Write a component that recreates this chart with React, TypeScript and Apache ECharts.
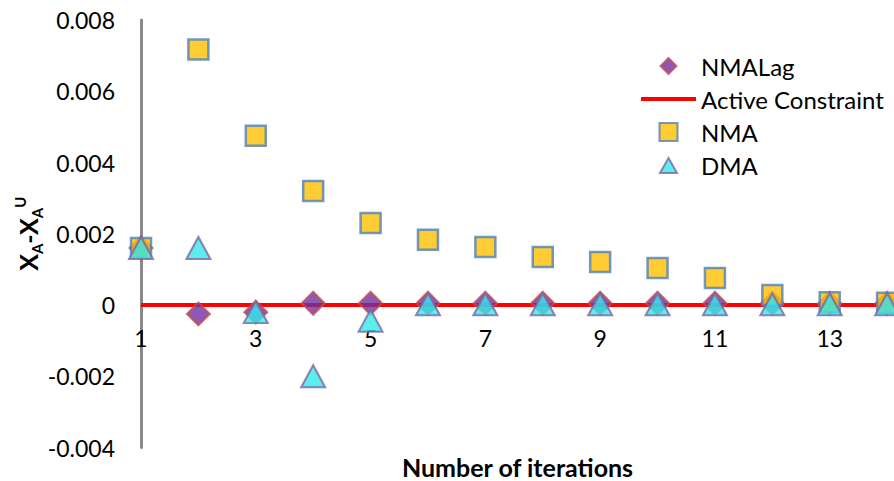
import React, { useEffect, useRef } from "react";
import * as echarts from "echarts";

const iterations = [1, 2, 3, 4, 5, 6, 7, 8, 9, 10, 11, 12, 13, 14];
const nmaLag = [0.0016, -0.00025, -0.0002, 0.00005, 0.00005, 0.00005, 0.00005, 0.00005, 0.00005, 0.00005, 0.00005, 0.00005, 0.00005, 0.00005];
const nma = [0.0016, 0.00717, 0.00475, 0.0032, 0.0023, 0.00183, 0.00163, 0.00135, 0.00121, 0.00104, 0.00076, 0.00028, 0.00008, 0.00006];
const dma = [0.0016, 0.0016, -0.0002, -0.002, -0.00044, 0.00002, 0.00002, 0.00002, 0.00002, 0.00002, 0.00002, 0.00002, 0.00002, 0.00002];
const constraintX = [1, 15];
const constraintY = [0, 0];
const legendNames = ["NMALag", "Active Constraint", "NMA", "DMA"];
const legendIcons = [
  "path://M0,0M20,20M10,2L18,10L10,18L2,10Z",
  "path://M0,0H55V4H0Z",
  "path://M0,0M20,20M1,1H19V19H1Z",
  "path://M0,0M20,20M10,3L18.5,18H1.5Z",
];

const FONT = "Lato";
const Y_MIN = -0.004;
const Y_MAX = 0.008;
const GRID_TOP = 20;
const GRID_BOTTOM = 33.5;
const CHART_H = 481;

export default function App() {
  const ref = useRef<HTMLDivElement>(null);
  useEffect(() => {
    if (!ref.current) return;
    const chart = echarts.init(ref.current, undefined, { renderer: "svg" });
    const pairs = (ys: number[]) => iterations.map((x, i) => [x, ys[i]]);
    // distance from the grid's bottom edge to the zero line, used to lift the x axis to y = 0
    const plotH = CHART_H - GRID_TOP - GRID_BOTTOM;
    const zeroLift = (plotH * (0 - Y_MIN)) / (Y_MAX - Y_MIN);
    chart.setOption({
      animation: false,
      backgroundColor: "#ffffff",
      textStyle: { fontFamily: FONT, color: "#000" },
      grid: { left: 141, right: 0, top: GRID_TOP, bottom: GRID_BOTTOM, outerBoundsMode: "none", containLabel: false },
      legend: {
        data: legendNames.map((n, i) => ({ name: n, icon: legendIcons[i] })),
        orient: "vertical",
        left: 641,
        top: 54,
        padding: 0,
        itemWidth: 55,
        itemHeight: 20,
        itemGap: 9,
        symbolKeepAspect: true,
        textStyle: { fontFamily: FONT, fontSize: 24, color: "#000" },
      },
      xAxis: {
        type: "value",
        min: 1,
        max: 14.12,
        interval: 1,
        position: "bottom",
        offset: -zeroLift,
        axisLine: { show: false, onZero: false },
        axisTick: { show: false },
        splitLine: { show: false },
        axisLabel: {
          margin: 21,
          fontSize: 23,
          fontFamily: FONT,
          color: "#000",
          showMaxLabel: false,
          formatter: (v: number) => (Number.isInteger(v) && v % 2 === 1 ? String(v) : ""),
        },
        name: "Number of iterations",
        nameLocation: "middle",
        nameGap: 149,
        nameMoveOverlap: false,
        nameTextStyle: { fontFamily: FONT, fontSize: 25, fontWeight: "bold", color: "#000" },
      },
      yAxis: {
        type: "value",
        min: Y_MIN,
        max: Y_MAX,
        interval: 0.002,
        axisLine: { show: true, onZero: false, lineStyle: { color: "#898989", width: 3 } },
        axisTick: { show: false },
        splitLine: { show: false },
        axisLabel: {
          margin: 26,
          fontSize: 23,
          fontFamily: FONT,
          color: "#000",
          formatter: (v: number) => (Math.abs(v) < 1e-12 ? "0" : v.toFixed(3)),
        },
        name: "{b|X}{s|A}{b|-X}{s|A}{u|U}",
        nameLocation: "middle",
        nameRotate: 90,
        nameGap: 97,
        nameMoveOverlap: false,
        nameTextStyle: {
          rich: {
            b: { fontFamily: FONT, fontSize: 25, fontWeight: "bold", color: "#000", lineHeight: 32 },
            s: { fontFamily: FONT, fontSize: 15, fontWeight: "bold", color: "#000", lineHeight: 19, verticalAlign: "bottom" },
            u: { fontFamily: FONT, fontSize: 15, fontWeight: "bold", color: "#000", lineHeight: 19, verticalAlign: "top" },
          },
        },
      },
      series: [
        {
          name: "Active Constraint",
          type: "line",
          symbol: "none",
          data: constraintX.map((x, i) => [x, constraintY[i]]),
          lineStyle: { color: "#ff0000", width: 4 },
          itemStyle: { color: "#ff0000" },
          z: 2,
        },
        {
          name: "NMALag",
          type: "scatter",
          symbol: "diamond",
          symbolSize: 23,
          data: pairs(nmaLag),
          clip: false,
          itemStyle: { color: "#7030A0", borderColor: "#C0504D", borderWidth: 2 },
          z: 3,
        },
        {
          name: "NMA",
          type: "scatter",
          symbol: "rect",
          symbolSize: 20,
          data: pairs(nma),
          clip: false,
          itemStyle: { color: "#FFC000", borderColor: "#4F81BD", borderWidth: 2.5 },
          z: 4,
        },
        {
          name: "DMA",
          type: "scatter",
          symbol: "triangle",
          symbolSize: [24, 22],
          data: pairs(dma),
          clip: false,
          itemStyle: { color: "#33E8E8", borderColor: "#8064A2", borderWidth: 2 },
          z: 5,
        },
      ],
    });
    return () => chart.dispose();
  }, []);
  return (
    <div
      ref={ref}
      style={{ position: "fixed", left: 0, top: 0, width: 894, height: 481 }}
    />
  );
}
